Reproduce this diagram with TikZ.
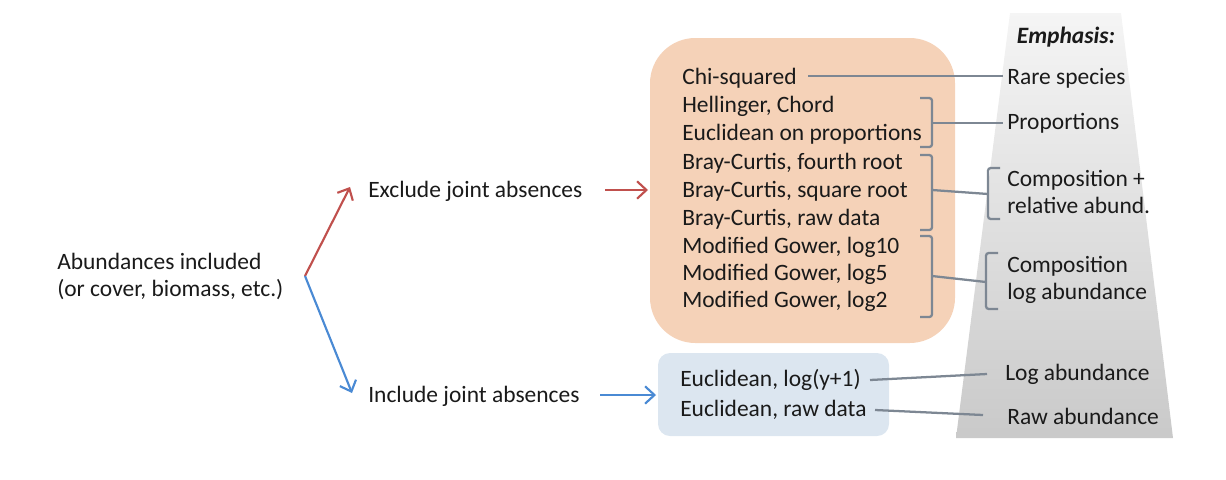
\documentclass[tikz,border=0pt]{standalone}
\usepackage{fontspec}
\setmainfont{Carlito}
\usetikzlibrary{arrows.meta}
\definecolor{peach}{HTML}{F5D2B8}
\definecolor{paleblue}{HTML}{DCE6F0}
\definecolor{redarr}{HTML}{C0504D}
\definecolor{bluearr}{HTML}{4A8AD4}
\definecolor{conn}{HTML}{7D8793}
\definecolor{txt}{HTML}{1A1A1A}
\begin{document}
\begin{tikzpicture}[x=0.75pt,y=-0.75pt,
  lbl/.style={anchor=base west,inner sep=0pt,font=\fontsize{17.6}{21}\selectfont,text=txt},
  redline/.style={draw=redarr,line width=1.6pt,-{Straight Barb[length=7pt,width=13pt]}},
  blueline/.style={draw=bluearr,line width=1.6pt,-{Straight Barb[length=7pt,width=13pt]}},
  gline/.style={draw=conn,line width=1.7pt},
  brk/.style={draw=conn,line width=1.7pt,rounded corners=2pt}]
\useasboundingbox (0,0) rectangle (1226,479);
% trapezoid
\shade[top color=gray!8,bottom color=gray!42] (1010,13) -- (1121,13) -- (1173,438) -- (956,438) -- cycle;
% boxes
\fill[peach] (650,38) [rounded corners=34pt] rectangle (955,343);
\fill[paleblue,rounded corners=9pt] (658,353) rectangle (889,436);
% left texts
\node[lbl] (abund1) at (57,269) {Abundances included};
\node[lbl] (abund2) at (57,296) {(or cover, biomass, etc.)};
\node[lbl] (excl) at (368,197) {Exclude joint absences};
\node[lbl] (incl) at (368,402) {Include joint absences};
\coordinate (fork) at (305,276);
\coordinate (extip) at (350,187);
\coordinate (intip) at (352,393);
\draw[redline] (fork) -- (extip);
\draw[blueline] (fork) -- (intip);
\coordinate (exa) at (605,190);
\coordinate (exb) at (648,190);
\coordinate (ina) at (600,395);
\coordinate (inb) at (656,395);
\draw[redline] (exa) -- (exb);
\draw[blueline] (ina) -- (inb);
% orange list
\node[lbl] (chi) at (682,84) {Chi-squared};
\node[lbl] (hel) at (682,112) {Hellinger, Chord};
\node[lbl] (eup) at (682,140) {Euclidean on proportions};
\node[lbl] (bc4) at (682,169) {Bray-Curtis, fourth root};
\node[lbl] (bc2) at (682,197) {Bray-Curtis, square root};
\node[lbl] (bcr) at (682,225) {Bray-Curtis, raw data};
\node[lbl] (mg10) at (682,253) {Modified Gower, log10};
\node[lbl] (mg5) at (682,280) {Modified Gower, log5};
\node[lbl] (mg2) at (682,307) {Modified Gower, log2};
% blue list
\node[lbl] (eul) at (680,386) {Euclidean, log(y+1)};
\node[lbl] (eur) at (680,416) {Euclidean, raw data};
% right labels
\node[anchor=base,inner sep=0pt,font=\fontsize{17.6}{21}\selectfont\bfseries\itshape,text=txt] (emph) at (1066,43) {Emphasis:};
\node[lbl] (rare) at (1007,84) {Rare species};
\node[lbl] (prop) at (1007,129) {Proportions};
\node[lbl] (comp1) at (1007,186) {Composition +};
\node[lbl] (comp2) at (1007,213) {relative abund.};
\node[lbl] (clog1) at (1007,272) {Composition};
\node[lbl] (clog2) at (1007,299) {log abundance};
\node[lbl] (logab) at (1005,380) {Log abundance};
\node[lbl] (rawab) at (1007,424) {Raw abundance};
% connectors
\coordinate (chiend) at (808,76);
\coordinate (rareend) at (1003,76);
\draw[gline] (chiend) -- (rareend);
\draw[brk] (920,98) -| (932,147) -- (920,147);
\coordinate (b1m) at (932,123);
\coordinate (propend) at (1003,123);
\draw[gline] (b1m) -- (propend);
\draw[brk] (920,155) -| (932,230) -- (920,230);
\draw[brk] (1000,168) -| (988,219) -- (1000,219);
\coordinate (b2m) at (932,190);
\coordinate (c2m) at (988,194);
\draw[gline] (b2m) -- (c2m);
\draw[brk] (920,236) -| (932,317) -- (920,317);
\draw[brk] (998,253) -| (986,309) -- (998,309);
\coordinate (b3m) at (932,276);
\coordinate (c3m) at (986,282);
\draw[gline] (b3m) -- (c3m);
\coordinate (eulend) at (870,380);
\coordinate (logend) at (987,374);
\draw[gline] (eulend) -- (logend);
\coordinate (eurend) at (875,410);
\coordinate (rawend) at (983,415);
\draw[gline] (eurend) -- (rawend);
\end{tikzpicture}
\end{document}
